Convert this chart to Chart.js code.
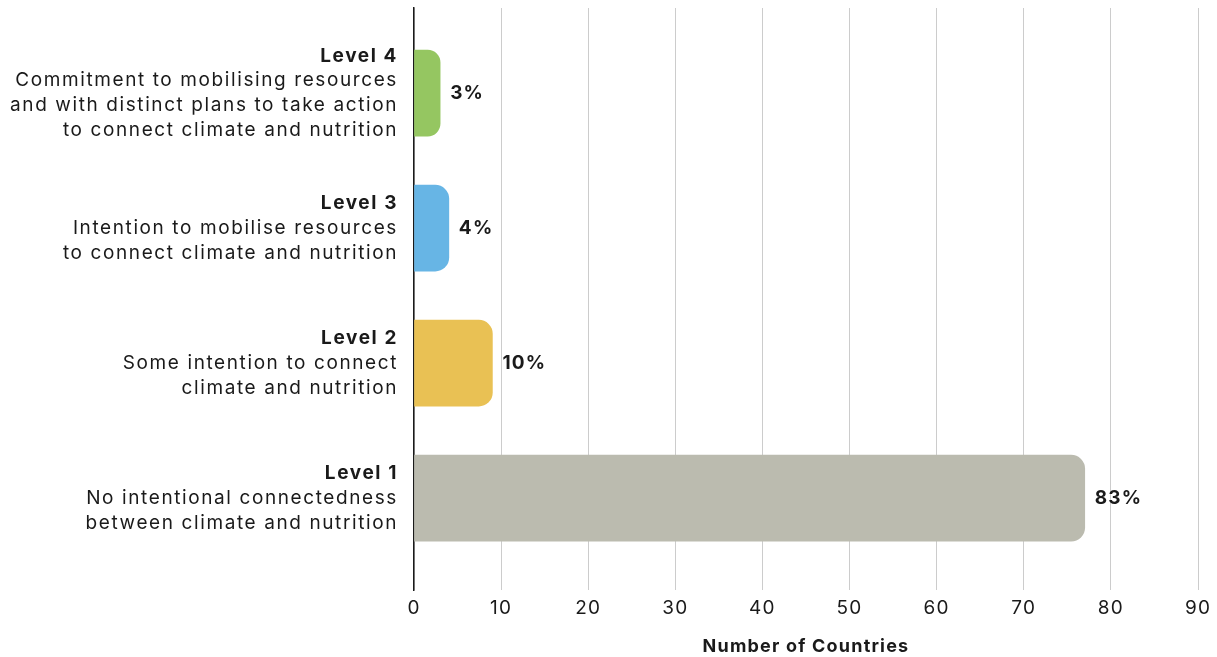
<!DOCTYPE html>
<html>
<head>
<meta charset="utf-8">
<script src="https://cdn.jsdelivr.net/npm/chart.js@4"></script>
<style>
  body { margin: 0; background: #fff; }
  canvas { display: block; }
</style>
</head>
<body>
<canvas id="chart" width="1217" height="657"></canvas>
<script>
// data
const levelTitles = ['Level 4', 'Level 3', 'Level 2', 'Level 1'];
const levelDescriptions = [
    ['Commitment to mobilising resources', 'and with distinct plans to take action', 'to connect climate and nutrition'],
    ['Intention to mobilise resources', 'to connect climate and nutrition'],
    ['Some intention to connect', 'climate and nutrition'],
    ['No intentional connectedness', 'between climate and nutrition']
];
const countries = [3, 4, 9, 77];
const percentLabels = ['3%', '4%', '10%', '83%'];
const barColors = ['#95c661', '#67b5e5', '#e9c154', '#bbbbaf'];
const xTicks = [0, 10, 20, 30, 40, 50, 60, 70, 80, 90];

const FONT = 'Inter, "DejaVu Sans", sans-serif';

// rows go top to bottom, positions on the (hidden) linear y axis
const rowPos = levelTitles.map((_, i) => levelTitles.length - 1 - i);

// wider letter spacing to get closer to the original typeface
const spacingPlugin = {
    id: 'spacing',
    beforeDraw(chart) { chart.ctx.letterSpacing = '1.2px'; }
};

// labels on the left and the % next to each bar
const labelPlugin = {
    id: 'labels',
    afterDatasetsDraw(chart) {
        const ctx = chart.ctx;
        const y = chart.scales.y;
        const meta = chart.getDatasetMeta(0);
        const lineH = 24.7;
        ctx.save();
        ctx.fillStyle = '#1a1a1a';
        ctx.textBaseline = 'middle';
        levelTitles.forEach((title, i) => {
            const cy = y.getPixelForValue(rowPos[i]);
            const lines = [title].concat(levelDescriptions[i]);
            const top = cy - (lines.length - 1) * lineH / 2;
            ctx.textAlign = 'right';
            ctx.letterSpacing = '1.6px';
            lines.forEach((txt, j) => {
                ctx.font = (j === 0 ? 'bold ' : '') + '19px ' + FONT;
                ctx.fillText(txt, chart.chartArea.left - 16, top + j * lineH);
            });
            const bar = meta.data[i];
            ctx.textAlign = 'left';
            ctx.letterSpacing = '1.2px';
            ctx.font = 'bold 19px ' + FONT;
            ctx.fillText(percentLabels[i], bar.x + 10, cy);
        });
        ctx.restore();
    }
};

new Chart(document.getElementById('chart'), {
    type: 'bar',
    data: {
        datasets: [{
            data: countries.map((v, i) => ({ x: v, y: rowPos[i] })),
            backgroundColor: barColors,
            borderRadius: 14,
            borderSkipped: 'start',
            barThickness: 86
        }]
    },
    options: {
        responsive: false,
        animation: false,
        indexAxis: 'y',
        layout: { padding: { top: 8, right: 19 } },
        plugins: {
            legend: { display: false },
            tooltip: { enabled: false }
        },
        scales: {
            x: {
                type: 'linear',
                min: 0,
                max: 90,
                afterBuildTicks: (scale) => { scale.ticks = xTicks.map(v => ({ value: v })); },
                grid: { color: '#cccccc', lineWidth: 1, drawTicks: false },
                border: { display: false },
                ticks: {
                    color: '#1a1a1a',
                    padding: 7,
                    font: { family: FONT, size: 19 }
                },
                title: {
                    display: true,
                    text: 'Number of Countries',
                    color: '#1a1a1a',
                    font: { family: FONT, size: 18, weight: 'bold' },
                    padding: { top: 14, bottom: 0 }
                },
                afterFit: (scale) => { scale.height = 67; }
            },
            y: {
                type: 'linear',
                offset: false,
                min: -0.68,
                max: 3.63,
                grid: { display: false, offset: false },
                border: { display: true, color: '#1a1a1a', width: 1.5 },
                ticks: { display: false },
                afterFit: (scale) => { scale.width = 414; }
            }
        }
    },
    plugins: [spacingPlugin, labelPlugin]
});
</script>
</body>
</html>
